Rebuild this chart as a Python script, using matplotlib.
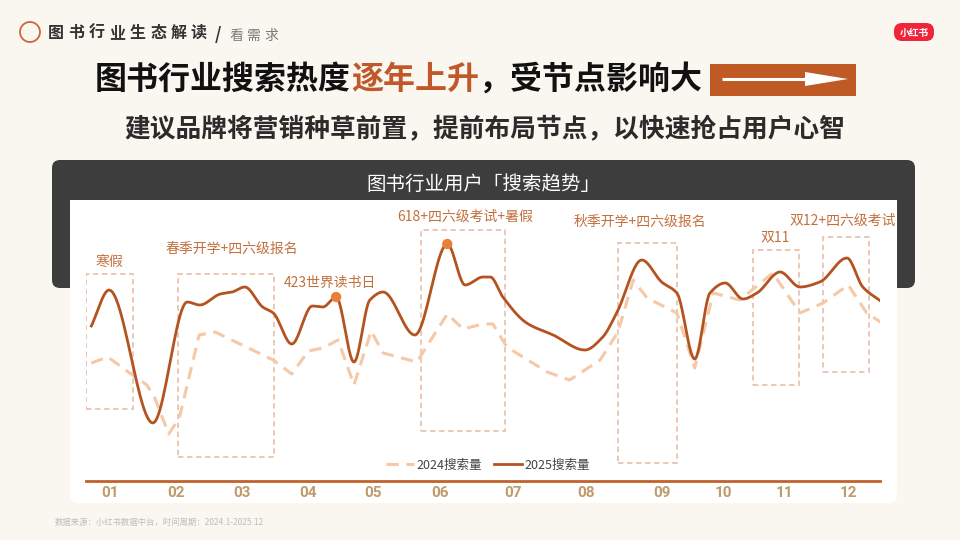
import numpy as np
import matplotlib
matplotlib.use("Agg")
import matplotlib.pyplot as plt
from matplotlib.patches import FancyBboxPatch, Rectangle, Circle, Polygon

plt.rcParams['font.family'] = ['Noto Sans CJK SC', 'DejaVu Sans']

# ---- 数据 ----
# x: 月份刻度 (0 = 轴起点, 12 = 轴终点), y: 搜索热度指数
x_2024 = [0.08, 0.33, 0.66, 0.92, 1.04, 1.25, 1.41, 1.71, 1.95, 2.83, 3.11, 3.36, 3.58,
          3.81, 4.05, 4.31, 4.49, 5.00, 5.46, 5.70, 6.00, 6.15, 6.36, 6.97, 7.31, 7.77,
          8.04, 8.27, 8.48, 8.93, 9.20, 9.48, 9.88, 10.38, 10.79, 11.14, 11.52, 11.80, 12.03]
y_2024 = [47.2, 49.6, 43.2, 38.4, 33.2, 18.8, 25.2, 58.4, 59.6, 48.4, 42.8, 52.0, 53.2,
          56.4, 38.4, 60.0, 51.2, 47.6, 66.8, 60.8, 62.8, 62.8, 53.6, 43.6, 40.4, 48.4,
          59.6, 80.4, 73.2, 67.2, 45.2, 75.2, 72.4, 83.2, 67.2, 71.2, 78.4, 67.2, 63.2]

x_2025 = [0.08, 0.35, 1.01, 1.53, 1.72, 2.03, 2.21, 2.40, 2.67, 2.83, 3.11, 3.42, 3.58,
          3.78, 4.05, 4.29, 4.49, 4.97, 5.46, 5.73, 6.00, 6.11, 6.30, 6.66, 7.06, 7.54,
          7.81, 8.02, 8.40, 8.70, 8.93, 9.20, 9.43, 9.66, 9.93, 10.14, 10.49, 10.79,
          11.09, 11.50, 11.74, 12.03]
y_2025 = [62.0, 76.4, 23.2, 71.6, 70.4, 74.8, 75.6, 77.6, 69.6, 67.2, 54.8, 70.0, 69.6,
          73.6, 47.6, 72.4, 75.6, 58.4, 94.8, 78.4, 81.6, 81.6, 73.6, 63.2, 58.4, 52.4,
          57.6, 67.2, 88.4, 79.6, 75.2, 48.8, 75.2, 79.2, 72.8, 75.2, 83.6, 77.6,
          79.6, 89.2, 77.6, 71.6]
peak_idx = [13, 18]

months = ['01', '02', '03', '04', '05', '06', '07', '08', '09', '10', '11', '12']
month_pos = [0.36, 1.36, 2.36, 3.36, 4.34, 5.35, 6.45, 7.56, 8.70, 9.63, 10.56, 11.53]

# 节点框: (x0, x1, y0, y1)
node_names = ['寒假', '春季开学+四六级报名', '423世界读书日', '618+四六级考试+暑假',
              '秋季开学+四六级报名', '双11', '双12+四六级考试']
node_text_x = [0.35, 2.21, 3.69, 5.73, 8.37, 10.41, 11.43]
node_text_y = [87.6, 92.8, 79.2, 105.6, 103.6, 97.6, 104.0]
boxes = [(0.0, 0.71, 28.8, 82.8),
         (1.39, 2.84, 9.6, 82.8),
         (5.06, 6.33, 20.0, 100.4),
         (8.04, 8.93, 7.2, 95.2),
         (10.08, 10.78, 38.4, 92.4),
         (11.14, 11.83, 43.6, 97.6)]

C_DARK = '#b4531f'
C_LIGHT = '#f6c8a6'
C_LABEL = '#c2703e'
C_BOX = '#e8c4b2'


def monotone_smooth(xs, ys, n=24):
    # 单调三次插值平滑 (PCHIP), 峰谷不过冲
    x = np.asarray(xs, float)
    y = np.asarray(ys, float)
    h = np.diff(x)
    d = np.diff(y) / h
    m = np.zeros_like(y)
    for k in range(1, len(x) - 1):
        if d[k - 1] * d[k] > 0:
            w1 = 2 * h[k] + h[k - 1]
            w2 = h[k] + 2 * h[k - 1]
            m[k] = (w1 + w2) / (w1 / d[k - 1] + w2 / d[k])
    m[0] = d[0]
    m[-1] = d[-1]
    px, py = [], []
    t = np.linspace(0, 1, n, endpoint=False)
    for k in range(len(x) - 1):
        h00 = 2 * t ** 3 - 3 * t ** 2 + 1
        h10 = t ** 3 - 2 * t ** 2 + t
        h01 = -2 * t ** 3 + 3 * t ** 2
        h11 = t ** 3 - t ** 2
        px.append(x[k] + t * h[k])
        py.append(h00 * y[k] + h10 * h[k] * m[k] + h01 * y[k + 1] + h11 * h[k] * m[k + 1])
    px.append([x[-1]])
    py.append([y[-1]])
    return np.concatenate(px), np.concatenate(py)


fig = plt.figure(figsize=(9.6, 5.4), dpi=100)
fig.patch.set_facecolor('#faf6f0')

# 装饰层 (像素坐标)
deco = fig.add_axes([0, 0, 1, 1])
deco.set_xlim(0, 960)
deco.set_ylim(540, 0)
deco.axis('off')

# 标题区 (字间距较宽, 逐字绘制)
deco.add_patch(Circle((30, 32), 10, fill=False, edgecolor='#c8683a', lw=1.3))
for i, ch in enumerate('图书行业生态解读'):
    deco.text(56 + i * 20.4, 38, ch, fontsize=11.5, fontweight='bold', color='#333333',
              va='baseline', ha='center')
deco.text(218, 40, '/', fontsize=12, fontweight='bold', color='#333333', va='baseline',
          ha='center')
for i, ch in enumerate('看需求'):
    deco.text(236 + i * 17.5, 40, ch, fontsize=10, color='#7a7a7a', va='baseline',
              ha='center')

# 小红书标志
deco.add_patch(FancyBboxPatch((894, 23), 40, 18, boxstyle='round,pad=0,rounding_size=8',
                              facecolor='#f0253c', edgecolor='none'))
deco.text(914, 32.5, '小红书', fontsize=7, fontweight='bold', color='white',
          ha='center', va='center')

# 主标题
t1 = deco.text(95, 80, '图书行业搜索热度', fontsize=23, fontweight='bold',
               color='#111111', va='center', ha='left')
fig.canvas.draw()
t2 = deco.text(t1.get_window_extent().x1, 80, '逐年上升', fontsize=23, fontweight='bold',
               color='#c0582a', va='center', ha='left')
fig.canvas.draw()
deco.text(t2.get_window_extent().x1, 80, '，受节点影响大', fontsize=23, fontweight='bold',
          color='#111111', va='center', ha='left')

# 箭头框
deco.add_patch(Rectangle((710, 64), 146, 32, facecolor='#bf5a24', edgecolor='none'))
deco.plot([722, 808], [79, 79], color='white', lw=2.2, solid_capstyle='butt')
deco.add_patch(Polygon([(805, 72), (848, 79), (805, 86)], closed=True,
                       facecolor='white', edgecolor='none'))

# 副标题
deco.text(485, 130, '建议品牌将营销种草前置，提前布局节点，以快速抢占用户心智',
          fontsize=18.5, fontweight='bold', color='#2b2b2b', ha='center', va='center')

# 深色标题面板 + 白色图表面板
deco.add_patch(FancyBboxPatch((52, 160), 863, 128, boxstyle='round,pad=0,rounding_size=8',
                              facecolor='#3d3d3d', edgecolor='none'))
deco.text(483, 184, '图书行业用户「搜索趋势」', fontsize=14, color='white',
          ha='center', va='center')
deco.add_patch(FancyBboxPatch((70, 200), 827, 303, boxstyle='round,pad=0,rounding_size=8',
                              facecolor='white', edgecolor='none'))
deco.add_patch(Rectangle((70, 200), 827, 20, facecolor='white', edgecolor='none'))

# 数据来源
deco.text(55, 522, '数据来源：小红书数据中台，时间周期：2024.1-2025.12', fontsize=6,
          color='#bdbdbd', va='center')

# ---- 图表 ----
ax = fig.add_axes([86 / 960, 1 - 503 / 540, 794 / 960, 303 / 540])
ax.set_xlim(0, 12)
ax.set_ylim(-8.8, 112.4)
ax.axis('off')
ax.patch.set_alpha(0)

for (x0, x1, y0, y1) in boxes:
    ax.add_patch(Rectangle((x0, y0), x1 - x0, y1 - y0, fill=False, edgecolor=C_BOX,
                           lw=1.3, linestyle=(0, (3, 2))))

ax.plot(x_2024, y_2024, color=C_LIGHT, lw=2.2, linestyle=(0, (4, 2.5)),
        label='2024搜索量', zorder=3)
sx, sy = monotone_smooth(x_2025, y_2025)
ax.plot(sx, sy, color=C_DARK, lw=2.0, zorder=4)
ax.plot([], [], color=C_DARK, lw=2.0, label='2025搜索量')
ax.scatter([x_2025[i] for i in peak_idx], [y_2025[i] for i in peak_idx], s=55,
           color='#e8803a', zorder=5, edgecolors='none')

for name, tx, ty in zip(node_names, node_text_x, node_text_y):
    ax.text(tx, ty, name, fontsize=10, color=C_LABEL, ha='center', va='center',
            clip_on=False)

# 月份轴
ax.plot([0, 12], [0, 0], color='#c0622a', lw=2.0, clip_on=False)
for m, pos in zip(months, month_pos):
    ax.text(pos, -4.9, m, fontsize=11, fontweight='bold', color='#bf9a6a',
            ha='center', va='center', family=['Roboto', 'DejaVu Sans'])

leg = ax.legend(loc='center', bbox_to_anchor=(0.506, 0.125), ncol=2, frameon=False,
                fontsize=9, handlelength=2.2, handletextpad=0.2, columnspacing=1.0)
for t in leg.get_texts():
    t.set_color('#444444')

fig.savefig('out.png', dpi=100, facecolor=fig.get_facecolor())
